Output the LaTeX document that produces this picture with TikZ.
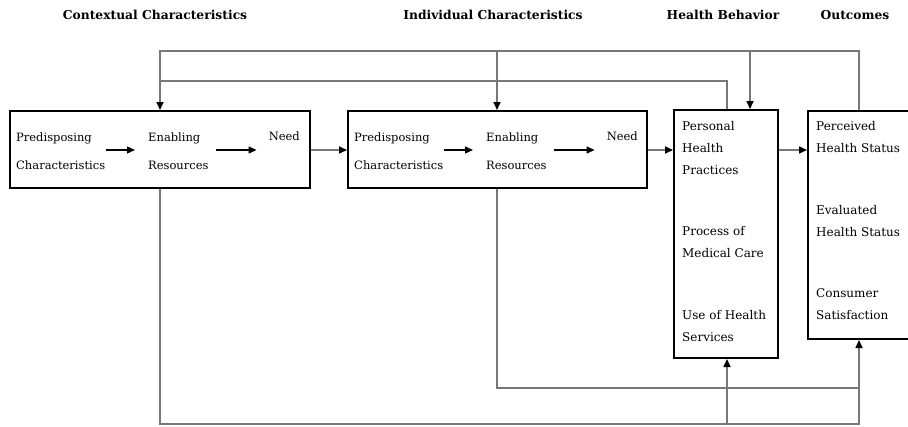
\documentclass[tikz,border=0pt]{standalone}
\usepackage{fontspec}
\setmainfont{DejaVu Serif}
\usetikzlibrary{arrows.meta}
\definecolor{conngray}{RGB}{120,120,120}
\begin{document}
\begin{tikzpicture}[x=1pt,y=-1pt,
  box/.style={draw=black,line width=2pt,inner sep=0pt,fill=none},
  lbl/.style={inner sep=0pt,align=left,font=\fontsize{11.5}{28}\selectfont},
  lblb/.style={inner sep=0pt,align=left,anchor=north west,font=\fontsize{12}{22}\selectfont},
  ttl/.style={inner sep=0pt,font=\bfseries\fontsize{12.3}{14}\selectfont},
  conn/.style={draw=conngray,line width=1.6pt},
  tip/.style={-{Triangle[length=8pt,width=7pt,black]}},
  inarrow/.style={draw=black,line width=1.3pt,-{Triangle[length=8pt,width=7pt,black]}}]
\path[use as bounding box,fill=white] (0,0) rectangle (908,426);

% titles
\node[ttl] (t1) at (155,15) {Contextual Characteristics};
\node[ttl] (t2) at (493,15) {Individual Characteristics};
\node[ttl] (t3) at (723,15) {Health Behavior};
\node[ttl] (t4) at (855,15) {Outcomes};

% boxes
\node[box,minimum width=300pt,minimum height=77pt] (b1) at (160,149.5) {};
\node[box,minimum width=299pt,minimum height=77pt] (b2) at (497.5,149.5) {};
\node[box,minimum width=104pt,minimum height=248pt] (b3) at (726,234) {};
\node[box,minimum width=112pt,minimum height=228pt] (b4) at (864,225) {};

% box 1 text
\node[lbl,anchor=west] (p1) at (16,151) {Predisposing\\Characteristics};
\node[lbl,anchor=west] (e1) at (148,151) {Enabling\\Resources};
\node[lbl,anchor=base east] (n1) at (300,140) {Need};
% box 2 text
\node[lbl,anchor=west] (p2) at (354,151) {Predisposing\\Characteristics};
\node[lbl,anchor=west] (e2) at (486,151) {Enabling\\Resources};
\node[lbl,anchor=base east] (n2) at (638,140) {Need};

% box 3 text
\node[lblb] (h1) at (682,121) {Personal\\Health\\Practices};
\node[lblb] (h2) at (682,226) {Process of\\Medical Care};
\node[lblb] (h3) at (682,310) {Use of Health\\Services};
% box 4 text
\node[lblb] (o1) at (816,121) {Perceived\\Health Status};
\node[lblb] (o2) at (816,205) {Evaluated\\Health Status};
\node[lblb] (o3) at (816,288) {Consumer\\Satisfaction};

% column coordinates
\coordinate (xa) at (160,0);
\coordinate (xb) at (497,0);
\coordinate (xc) at (750,0);
\coordinate (xe) at (727,0);
\coordinate (xd) at (859,0);
\coordinate (top) at (0,51);
\coordinate (mid) at (0,81);
\coordinate (bot1) at (0,388);
\coordinate (bot2) at (0,424);
\coordinate (arow) at (0,150);

% inner arrows
\draw[inarrow] ([xshift=0.5pt]p1.east |- arow) -- ([xshift=-13pt]e1.west |- arow);
\draw[inarrow] ([xshift=7pt]e1.east |- arow) -- ([xshift=-12pt]n1.west |- arow);
\draw[inarrow] ([xshift=0.5pt]p2.east |- arow) -- ([xshift=-13pt]e2.west |- arow);
\draw[inarrow] ([xshift=7pt]e2.east |- arow) -- ([xshift=-12pt]n2.west |- arow);

% box-to-box arrows
\draw[conn,tip] (b1.east |- arow) -- (b2.west |- arow);
\draw[conn,tip] (b2.east |- arow) -- (b3.west |- arow);
\draw[conn,tip] (b3.east |- arow) -- (b4.west |- arow);

% feedback connectors (top)
\draw[conn,tip] (b4.north -| xd) |- (top -| xa) -- (b1.north -| xa);
\draw[conn,tip] (top -| xb) -- (b2.north -| xb);
\draw[conn,tip] (top -| xc) -- (b3.north -| xc);
\draw[conn] (b3.north -| xe) |- (mid -| xa);

% bottom connectors
\draw[conn,tip] (b1.south -| xa) |- (bot2 -| xd) -- (b4.south -| xd);
\draw[conn,tip] (bot2 -| xe) -- (b3.south -| xe);
\draw[conn] (b2.south -| xb) |- (bot1 -| xd);
\end{tikzpicture}
\end{document}
